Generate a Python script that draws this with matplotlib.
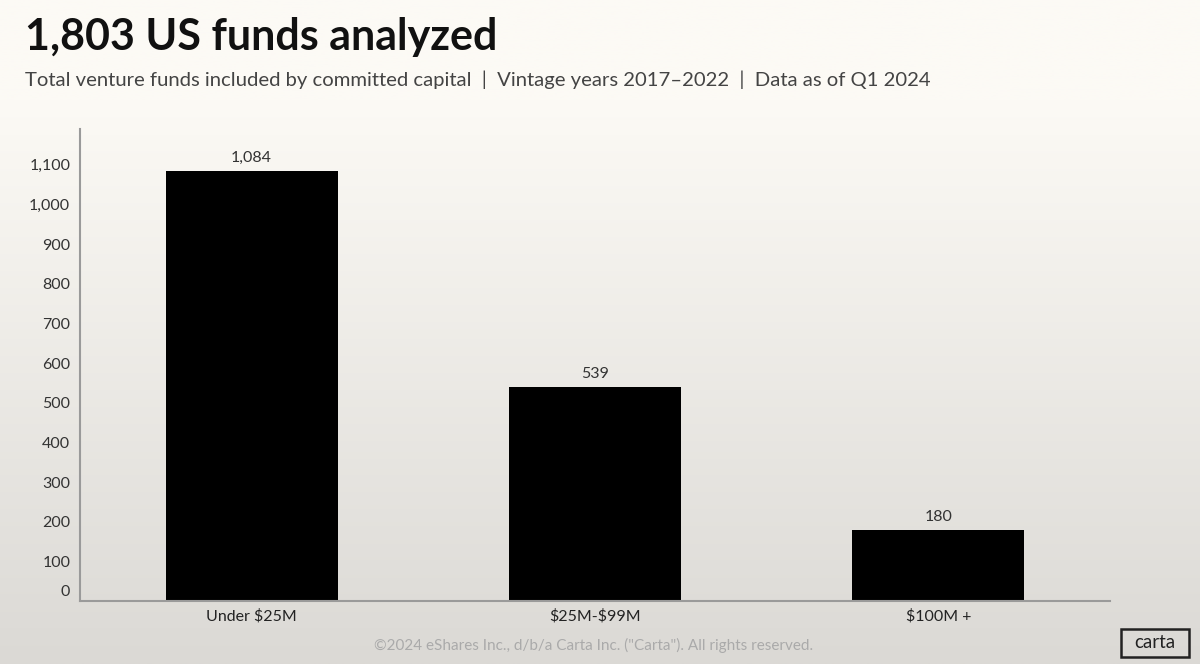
import matplotlib.pyplot as plt
import numpy as np
from matplotlib.transforms import ScaledTranslation
from matplotlib.patches import FancyBboxPatch

plt.rcParams['font.family'] = ['Lato', 'DejaVu Sans']
plt.rcParams['text.parse_math'] = False

# Datos
categories = ['Under $25M', '$25M-$99M', '$100M +']
funds = [1084, 539, 180]
value_labels = ['1,084', '539', '180']
y_ticks = [0, 100, 200, 300, 400, 500, 600, 700, 800, 900, 1000, 1100]
y_tick_labels = ['0', '100', '200', '300', '400', '500', '600', '700', '800', '900', '1,000', '1,100']

fig = plt.figure(figsize=(12, 6.64), dpi=100)

# fondo degradado
bg = fig.add_axes([0, 0, 1, 1], zorder=-10)
top = np.array([252, 250, 245]) / 255
bottom = np.array([219, 217, 213]) / 255
t = np.linspace(0, 1, 256)[:, None]
t = np.clip((t - 0.15) / 0.85, 0, 1)
grad = top * (1 - t[..., None]) + bottom * t[..., None]
grad = np.repeat(grad, 2, axis=1)
bg.imshow(grad, aspect='auto', extent=[0, 1, 0, 1], origin='upper')
bg.axis('off')

ax = fig.add_axes([80 / 1200, 1 - 601 / 664, 1030 / 1200, 472 / 664])
ax.patch.set_alpha(0)
x = np.arange(len(categories))
ax.bar(x, funds, width=0.5, color='black')
for xi, v, lab in zip(x, funds, value_labels):
    ax.text(xi, v + 15, lab, ha='center', va='bottom', fontsize=11.5, color='#333333')

ax.set_xlim(-0.5, 2.5)
ax.set_ylim(0, 1190)
ax.set_yticks(y_ticks)
ax.set_yticklabels(y_tick_labels)
ax.set_xticks(x)
ax.set_xticklabels(categories)
ax.tick_params(axis='both', length=0, labelsize=11.5, labelcolor='#333333')
ax.tick_params(axis='y', pad=7)
ax.tick_params(axis='x', pad=6, labelcolor='#222222')
for s in ['top', 'right']:
    ax.spines[s].set_visible(False)
for s in ['left', 'bottom']:
    ax.spines[s].set_color('#9a9a9a')
    ax.spines[s].set_linewidth(1.5)

# la etiqueta 0 va un poco mas arriba
lab0 = ax.get_yticklabels()[0]
lab0.set_transform(lab0.get_transform() + ScaledTranslation(0, 0.11, fig.dpi_scale_trans))

fig.text(25 / 1200, 1 - 37 / 664, '1,803 US funds analyzed', fontsize=31, fontweight='bold',
         va='center', ha='left', color='#111111')
fig.text(25 / 1200, 1 - 80 / 664,
         'Total venture funds included by committed capital  |  Vintage years 2017\u20132022  |  Data as of Q1 2024',
         fontsize=14.6, va='center', ha='left', color='#444444')
fig.text(594 / 1200, 1 - 645 / 664,
         '\u00a92024 eShares Inc., d/b/a Carta Inc. ("Carta"). All rights reserved.',
         fontsize=11, va='center', ha='center', color='#aaaaaa')

logo = FancyBboxPatch((1121 / 1200, 1 - 657 / 664), 68 / 1200, 28 / 664,
                      boxstyle='square,pad=0', transform=fig.transFigure,
                      facecolor='none', edgecolor='#222222', linewidth=1.8)
fig.patches.append(logo)
fig.text(1155 / 1200, 1 - 643 / 664, 'carta', fontsize=13.5, va='center', ha='center', color='#222222')

fig.savefig('out.png', dpi=100)
